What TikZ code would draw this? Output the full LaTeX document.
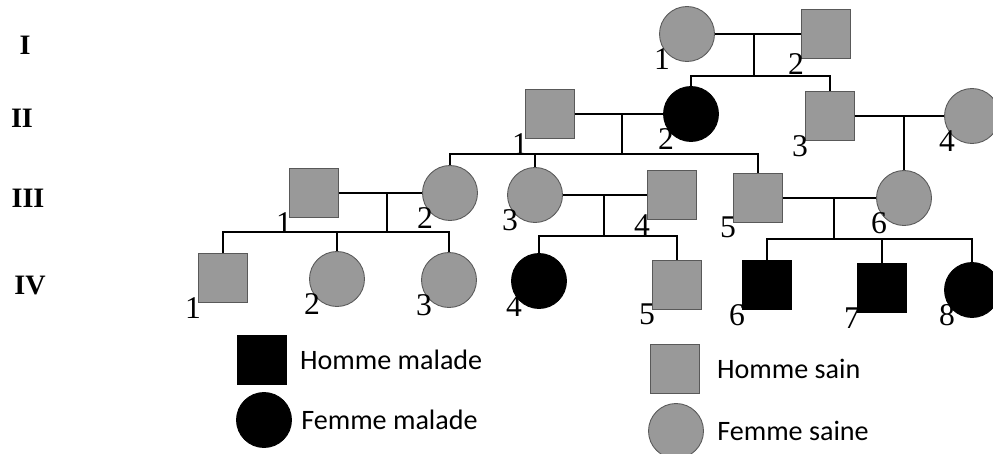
\documentclass[tikz,border=0pt]{standalone}
\usepackage{fontspec}
\setmainfont{Liberation Serif}
\newfontfamily\legfam{Carlito}
\usetikzlibrary{positioning}

\begin{document}
\begin{tikzpicture}[
    x=0.02cm, y=-0.02cm,
    male/.style={rectangle, draw=black!65, line width=0.5pt,
                 minimum size=0.97cm, inner sep=0pt},
    female/.style={circle, draw=black!65, line width=0.5pt,
                   minimum size=1.1cm, inner sep=0pt},
    sick/.style={fill=black, draw=black},
    sain/.style={fill=black!40},
    num/.style={font=\fontsize{18}{18}\selectfont, inner sep=0pt,
                anchor=east, xshift=0.06cm, yshift=-0.1cm},
    gen/.style={font=\fontsize{16}{16}\selectfont\bfseries},
    leg/.style={font=\legfam\fontsize{16}{16}\selectfont, inner sep=0pt,
                anchor=west},
    link/.style={line width=1pt}
  ]
  \useasboundingbox (0,0) rectangle (993,453);

  % generations
  \node[gen] (g1) at (25,45) {I};
  \node[gen] (g2) at (22,118) {II};
  \node[gen] (g3) at (28,198) {III};
  \node[gen] (g4) at (30,286) {IV};

  % generation I
  \node[female, sain, label={[num]south west:1}] (i1) at (687,34) {};
  \node[male, sain, label={[num]south west:2}] (i2) at (826,34) {};

  % generation II
  \node[male, sain, label={[num]south west:1}] (ii1) at (550,114) {};
  \node[female, sick, label={[num]south west:2}] (ii2) at (691,114) {};
  \node[male, sain, label={[num]south west:3}] (ii3) at (830,116) {};
  \node[female, sain, label={[num]south west:4}] (ii4) at (972,116) {};

  % generation III
  \node[male, sain, label={[num]south west:1}] (iii1) at (314,193) {};
  \node[female, sain, label={[num]south west:2}] (iii2) at (450,193) {};
  \node[female, sain, label={[num]south west:3}] (iii3) at (535,195) {};
  \node[male, sain, label={[num]south west:4}] (iii4) at (672,195) {};
  \node[male, sain, label={[num]south west:5}] (iii5) at (758,198) {};
  \node[female, sain, label={[num]south west:6}] (iii6) at (904,198) {};

  % generation IV
  \node[male, sain, label={[num]south west:1}] (iv1) at (223,278) {};
  \node[female, sain, label={[num]south west:2}] (iv2) at (337,279) {};
  \node[female, sain, label={[num]south west:3}] (iv3) at (449,280) {};
  \node[female, sick, label={[num]south west:4}] (iv4) at (539,281) {};
  \node[male, sain, label={[num]south west:5}] (iv5) at (677,285) {};
  \node[male, sick, label={[num]south west:6}] (iv6) at (767,285) {};
  \node[male, sick, label={[num]south west:7}] (iv7) at (882,288) {};
  \node[female, sick, label={[num]south west:8}] (iv8) at (972,290) {};

  % couples and sibships
  \coordinate (c1) at (754,34);  \coordinate (s1) at (754,76);
  \coordinate (c2) at (622,114); \coordinate (s2) at (622,154);
  \coordinate (c3) at (904,116);
  \coordinate (c4) at (387,193); \coordinate (s4) at (387,232);
  \coordinate (c5) at (604,195); \coordinate (s5) at (604,236);
  \coordinate (c6) at (834,198); \coordinate (s6) at (834,239);

  \draw[link] (i1) -- (i2);
  \draw[link] (c1) -- (s1);
  \draw[link] (ii2.north) |- (s1) -| (ii3.north);

  \draw[link] (ii1) -- (ii2);
  \draw[link] (c2) -- (s2);
  \draw[link] (iii2.north) |- (s2) -| (iii5.north);
  \draw[link] (iii3.north) -- (iii3.north |- s2);

  \draw[link] (ii3) -- (ii4);
  \draw[link] (c3) -- (iii6.north);

  \draw[link] (iii1) -- (iii2);
  \draw[link] (c4) -- (s4);
  \draw[link] (iv1.north) |- (s4) -| (iv3.north);
  \draw[link] (iv2.north) -- (iv2.north |- s4);

  \draw[link] (iii3) -- (iii4);
  \draw[link] (c5) -- (s5);
  \draw[link] (iv4.north) |- (s5) -| (iv5.north);

  \draw[link] (iii5) -- (iii6);
  \draw[link] (c6) -- (s6);
  \draw[link] (iv6.north) |- (s6) -| (iv8.north);
  \draw[link] (iv7.north) -- (iv7.north |- s6);

  % legend
  \node[male, sick] (lhm) at (262,360) {};
  \node[leg, right=0.26cm of lhm] (thm) {Homme malade};
  \node[female, sick] (lfm) at (264,420) {};
  \node[leg, right=0.18cm of lfm] (tfm) {Femme malade};
  \node[male, sain] (lhs) at (675,369) {};
  \node[leg, right=0.34cm of lhs] (ths) {Homme sain};
  \node[female, sain] (lfs) at (676,431) {};
  \node[leg, right=0.26cm of lfs] (tfs) {Femme saine};
\end{tikzpicture}
\end{document}
